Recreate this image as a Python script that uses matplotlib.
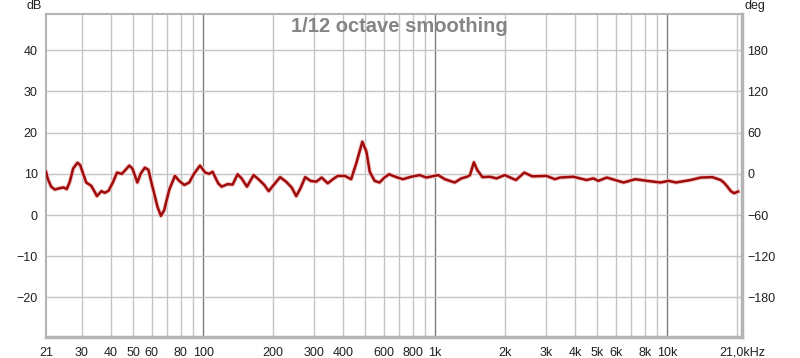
import matplotlib
matplotlib.use("Agg")
import matplotlib.pyplot as plt
from matplotlib.ticker import FixedLocator, FixedFormatter, NullFormatter

# frequency response (Hz, dB)
freq = [21, 21.4, 22.1, 22.9, 24.0, 25.0, 25.8, 26.6, 27.5, 28.7, 29.5, 30.5,
        31.3, 32.9, 34.0, 34.8, 36.4, 37.6, 39.1, 40.9, 42.5, 44.6, 48.0, 49.5,
        52.0, 53.8, 56.0, 58.0, 60.4, 63.5, 65.7, 67.9, 71.3, 75.5, 78.8, 82.8,
        87.0, 91.4, 96.8, 102, 106, 109.7, 116, 120, 127.4, 133.9, 140.6, 146.3,
        154.3, 164.9, 174.5, 183.3, 191.4, 202.5, 214.4, 227.5, 240.5, 251.6,
        262.5, 275, 290, 307, 324, 344, 362, 380, 408, 434, 457, 485, 505, 522,
        548, 575, 604, 632, 680, 726, 788, 857, 916, 1030, 1100, 1213, 1296,
        1372, 1412, 1467, 1518, 1598, 1717, 1838, 1994, 2227, 2420, 2620, 3017,
        3280, 3446, 3935, 4491, 4800, 5045, 5485, 6480, 7286, 8183, 9346, 10150,
        10900, 12610, 13940, 15640, 17000, 17600, 18160, 18800, 19420, 20190]
spl = [10.5, 8.7, 6.9, 6.2, 6.5, 6.7, 6.3, 8.1, 11.3, 12.7, 12.1, 9.7,
       7.9, 7.1, 5.7, 4.6, 5.8, 5.4, 5.9, 8.1, 10.3, 10.0, 12.0, 11.3,
       7.9, 10.1, 11.5, 11.0, 6.9, 2.0, -0.2, 1.2, 6.1, 9.5, 8.3, 7.3,
       7.9, 10.1, 12.0, 10.3, 10.0, 10.5, 7.7, 6.9, 7.5, 7.4, 9.9, 8.9,
       6.9, 9.7, 8.5, 7.3, 5.8, 7.5, 9.2, 8.1, 6.7, 4.6,
       6.5, 9.2, 8.3, 8.1, 9.1, 7.7, 8.7, 9.5, 9.5, 8.7, 12.6, 17.8, 15.4, 10.5,
       8.3, 7.9, 9.1, 9.9, 9.2, 8.7, 9.3, 9.7, 9.1, 9.7, 8.7, 7.9, 8.9,
       9.3, 9.7, 12.8, 10.9, 9.2, 9.3, 8.9, 9.7, 8.5, 10.3, 9.4, 9.5,
       8.7, 9.1, 9.3, 8.5, 8.9, 8.3, 9.1, 7.9, 8.7, 8.3, 7.9, 8.3,
       7.9, 8.5, 9.1, 9.2, 8.5, 7.8, 6.9, 5.8, 5.3, 5.7]

xticks = [21, 30, 40, 50, 60, 80, 100, 200, 300, 400, 600, 800, 1000, 2000,
          3000, 4000, 5000, 6000, 8000, 10000, 21000]
xlabels = ["21", "30", "40", "50", "60", "80", "100", "200", "300", "400", "600",
           "800", "1k", "2k", "3k", "4k", "5k", "6k", "8k", "10k", "21,0kHz"]
ygrid = [-20, -10, 0, 10, 20, 30, 40]
deg_ticks = [-180, -120, -60, 0, 60, 120, 180]

plt.rcParams['font.family'] = ['Liberation Sans', 'DejaVu Sans']

fig = plt.figure(figsize=(8, 3.58), dpi=100)
ax = fig.add_axes([46 / 800, 1 - 337 / 358, 696 / 800, 323 / 358])

ax.set_xscale('log')
ax.set_xlim(21, 21000)
ax.set_ylim(-29.6, 48.8)

# grid
minor_grid = [m * d for d in (10, 100, 1000, 10000) for m in range(2, 10)]
minor_grid = [g for g in minor_grid if 21 < g < 21000]
for g in minor_grid:
    ax.axvline(g, color='#c4c4c4', lw=1.0, zorder=0)
for g in (100, 1000, 10000):
    ax.axvline(g, color='#7c7c7c', lw=1.0, zorder=0)
for g in ygrid:
    ax.axhline(g, color='#c4c4c4', lw=1.0, zorder=0)

ax.plot(freq, spl, color='#f0c8c8', lw=3.2, solid_joinstyle='round', zorder=2)
ax.plot(freq, spl, color='#a00a0a', lw=1.8, solid_joinstyle='round', zorder=3)

ax.xaxis.set_major_locator(FixedLocator(xticks))
ax.xaxis.set_major_formatter(FixedFormatter(xlabels))
ax.xaxis.set_minor_formatter(NullFormatter())
ax.xaxis.set_minor_locator(FixedLocator([]))
ax.set_yticks(ygrid)
ax.tick_params(axis='both', length=0, labelsize=9, colors='#202020')
ax.tick_params(axis='x', pad=7)
ax.tick_params(axis='y', pad=6)
# the last label sits a little left of the axis end in the original
ax.get_xticklabels()[-1].set_horizontalalignment('center')

for s in ax.spines.values():
    s.set_color('#b4b4b4')
    s.set_linewidth(1.5)
ax.spines['right'].set_linewidth(2.5)
ax.spines['bottom'].set_linewidth(2.5)

# phase axis on the right
ax2 = ax.twinx()
lo, hi = ax.get_ylim()
ax2.set_ylim((lo - 10) * 6, (hi - 10) * 6)
ax2.set_yticks(deg_ticks)
ax2.tick_params(axis='y', length=0, labelsize=9, colors='#202020', pad=4)
for s in ax2.spines.values():
    s.set_visible(False)

fig.text(34 / 800, 1 - 6 / 358, "dB", fontsize=9, ha='center', va='center', color='#202020')
fig.text(755 / 800, 1 - 6 / 358, "deg", fontsize=9, ha='center', va='center', color='#202020')
fig.text(399 / 800, 1 - 26 / 358, "1/12 octave smoothing", fontsize=14.5,
         fontweight='bold', color='#858585', ha='center', va='center')

fig.savefig("out.png", dpi=100, facecolor='white')
